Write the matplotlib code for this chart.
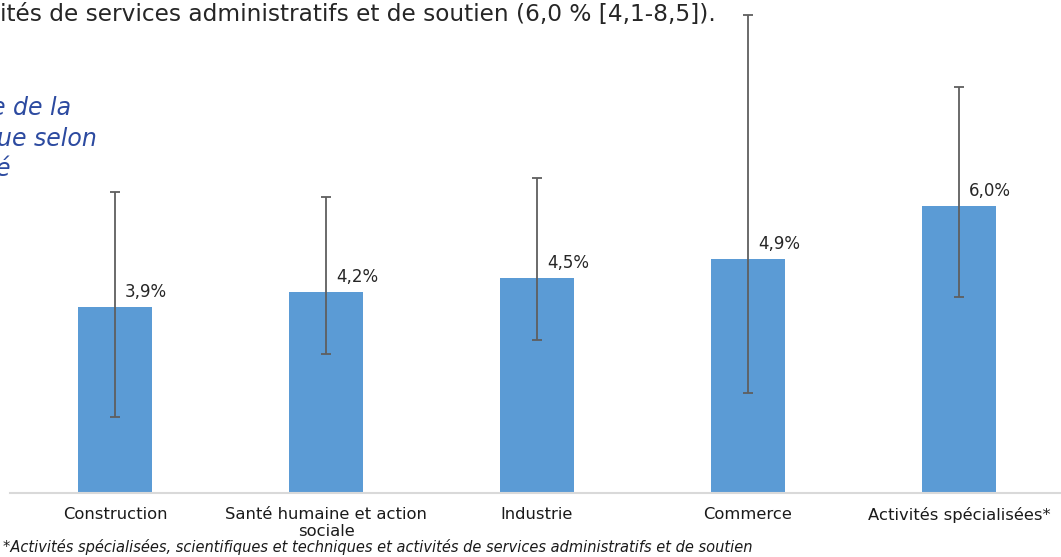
import matplotlib
matplotlib.use("Agg")
import matplotlib.pyplot as plt
import numpy as np

categories = ["Construction", "Santé humaine et action\nsociale", "Industrie", "Commerce", "Activités spécialisées*"]
values = [3.9, 4.2, 4.5, 4.9, 6.0]
ci_low = [1.6, 2.9, 3.2, 2.1, 4.1]
ci_high = [6.3, 6.2, 6.6, 10.0, 8.5]
value_labels = ["3,9%", "4,2%", "4,5%", "4,9%", "6,0%"]

W, H = 1061, 557
fig = plt.figure(figsize=(W / 100, H / 100), dpi=100)

ax_bottom = (H - 493) / H
ax = fig.add_axes([9.5 / W, ax_bottom, 1055 / W, 1 - ax_bottom])
px_per_unit = 47.8
ax.set_ylim(0, 493 / px_per_unit)
ax.set_xlim(-0.5, len(categories) - 0.5)

x = np.arange(len(categories))
v = np.array(values)
yerr = np.array([v - np.array(ci_low), np.array(ci_high) - v])
ax.bar(x, v, width=0.355, color="#5B9BD5", zorder=2)
ax.errorbar(x, v, yerr=yerr, fmt="none", ecolor="#5F5F5F", elinewidth=1.3,
            capsize=3.3, capthick=1.3, zorder=3)

for xi, vi, lab in zip(x, v, value_labels):
    ax.annotate(lab, (xi, vi), xytext=(10, 6), textcoords="offset pixels",
                ha="left", va="bottom", fontsize=12, color="#262626",
                family="DejaVu Sans")

for s in ["top", "right", "left"]:
    ax.spines[s].set_visible(False)
ax.spines["bottom"].set_color("#D9D9D9")
ax.spines["bottom"].set_linewidth(1.5)
ax.set_yticks([])
ax.set_xticks(x)
ax.set_xticklabels(categories, fontsize=11.8, color="#1a1a1a", linespacing=1.2)
ax.tick_params(axis="x", length=0, pad=10)

renderer = fig.canvas.get_renderer()

def fit_width(t, target_px):
    bb = t.get_window_extent(renderer=renderer)
    t.set_fontsize(t.get_fontsize() * target_px / bb.width)

top = fig.text(0 / W, 1 - 15 / H, "ités de services administratifs et de soutien (6,0 % [4,1-8,5]).",
               fontsize=14.5, color="#262626", ha="left", va="center", family="DejaVu Sans")
fit_width(top, 716)

blue = "#2C4AA0"
fig.text(-9 / W, 1 - 108 / H, "e de la", fontsize=17, color=blue, style="italic",
         ha="left", va="center")
fig.text(-3 / W, 1 - 139 / H, "ue selon", fontsize=17, color=blue, style="italic",
         ha="left", va="center")
fig.text(-4 / W, 1 - 169 / H, "é", fontsize=17, color=blue, style="italic",
         ha="left", va="center")

foot = fig.text(3 / W, 1 - 547 / H,
                "*Activités spécialisées, scientifiques et techniques et activités de services administratifs et de soutien",
                fontsize=11.5, style="italic", color="#1a1a1a", ha="left", va="center",
                family=["Liberation Sans Narrow", "DejaVu Sans"])
fit_width(foot, 754)

fig.savefig("out.png", dpi=100)
